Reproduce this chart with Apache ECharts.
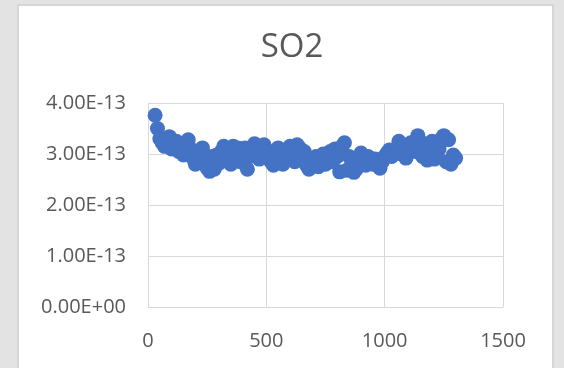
<!DOCTYPE html>
<html>
<head>
<meta charset="utf-8">
<script src="https://cdn.jsdelivr.net/npm/echarts@6/dist/echarts.min.js"></script>
<style>
  html, body { margin: 0; padding: 0; background: #e3e3e3; }
  .card { position: absolute; left: 17px; top: 4px; width: 537px; height: 380px;
          background: #fff; border: 2px solid #d6d6d6; box-sizing: border-box; }
  #chart { position: absolute; left: 0; top: 0; width: 564px; height: 368px; }
</style>
</head>
<body>
<div class="card"></div>
<div id="chart"></div>
<script>
const title = 'SO2'
// x positions and SO2 values (in units of 1e-13)
const xs = [
  30, 40, 50, 60, 70, 80, 90, 100, 110, 120,
  130, 140, 150, 160, 170, 180, 190, 200, 210, 220,
  230, 240, 250, 260, 270, 280, 290, 300, 310, 320,
  330, 340, 350, 360, 370, 380, 390, 400, 410, 420,
  430, 440, 450, 460, 470, 480, 490, 500, 510, 520,
  530, 540, 550, 560, 570, 580, 590, 600, 610, 620,
  630, 640, 650, 660, 670, 680, 690, 700, 710, 720,
  730, 740, 750, 760, 770, 780, 790, 800, 810, 820,
  830, 840, 850, 860, 870, 880, 890, 900, 910, 920,
  930, 940, 950, 960, 970, 980, 990, 1000, 1010, 1020,
  1030, 1040, 1050, 1060, 1070, 1080, 1090, 1100, 1110, 1120,
  1130, 1140, 1150, 1160, 1170, 1180, 1190, 1200, 1210, 1220,
  1230, 1240, 1250, 1260, 1270, 1280, 1290, 1300
]
const so2 = [
  3.76, 3.50, 3.30, 3.22, 3.15, 3.28, 3.34, 3.10, 3.20, 3.25,
  3.05, 3.15, 2.98, 3.22, 3.28, 3.10, 2.92, 2.80, 3.05, 2.95,
  3.12, 2.85, 2.72, 2.66, 2.95, 2.70, 2.98, 2.82, 3.05, 3.15,
  2.90, 3.08, 2.80, 3.15, 2.95, 3.12, 2.85, 3.00, 3.12, 2.70,
  2.95, 3.05, 3.20, 3.10, 2.90, 3.00, 3.18, 2.95, 3.05, 2.85,
  2.78, 3.02, 3.12, 2.90, 2.80, 3.05, 2.95, 3.15, 3.00, 2.85,
  3.18, 3.12, 2.90, 3.05, 2.78, 2.70, 2.88, 2.82, 2.95, 2.75,
  2.88, 3.00, 2.80, 2.92, 3.05, 2.85, 3.10, 2.95, 2.65, 3.15,
  3.22, 2.68, 2.95, 2.80, 2.64, 2.70, 2.90, 3.02, 2.85, 2.78,
  2.95, 2.85, 2.80, 2.90, 2.82, 2.72, 2.85, 2.95, 3.02, 3.08,
  2.95, 3.05, 3.10, 3.25, 3.00, 3.15, 2.92, 3.05, 3.22, 3.10,
  3.05, 3.36, 3.10, 2.95, 3.20, 2.88, 3.15, 3.25, 2.90, 3.05,
  3.10, 3.30, 3.36, 2.85, 3.28, 2.80, 2.98, 2.92
]
const unit = 1e-13
const xTicks = [0, 500, 1000, 1500]
const yTickLabels = ['0.00E+00', '1.00E-13', '2.00E-13', '3.00E-13', '4.00E-13']

const chart = echarts.init(document.getElementById('chart'))
const gridColor = '#d9d9d9'
const textColor = '#595959'
chart.setOption({
  textStyle: { fontFamily: 'Open Sans' },
  title: {
    text: title,
    left: 287,
    top: 26,
    textAlign: 'center',
    textStyle: { fontSize: 33, fontWeight: 'normal', color: textColor, fontFamily: 'Open Sans' }
  },
  grid: { left: 148, right: 61, top: 103, bottom: 61 },
  xAxis: {
    type: 'value',
    min: xTicks[0],
    max: xTicks[xTicks.length - 1],
    interval: 500,
    axisLine: { show: true, lineStyle: { color: gridColor, width: 1 } },
    axisTick: { show: false },
    splitLine: { show: true, lineStyle: { color: gridColor, width: 1 } },
    axisLabel: {
      fontSize: 20, color: textColor, margin: 24,
      formatter: (v) => String(xTicks[Math.round(v / 500)])
    }
  },
  yAxis: {
    type: 'value',
    min: 0,
    max: 4 * unit,
    interval: unit,
    axisLine: { show: true, lineStyle: { color: gridColor, width: 1 } },
    axisTick: { show: false },
    splitLine: { show: true, lineStyle: { color: gridColor, width: 1 } },
    axisLabel: {
      fontSize: 20, color: textColor, margin: 22,
      formatter: (v) => yTickLabels[Math.round(v / unit)]
    }
  },
  series: [{
    type: 'scatter',
    symbol: 'circle',
    symbolSize: 15,
    itemStyle: { color: '#4472c4', opacity: 1 },
    data: xs.map((x, i) => [x, so2[i] * unit])
  }]
})
</script>
</body>
</html>
